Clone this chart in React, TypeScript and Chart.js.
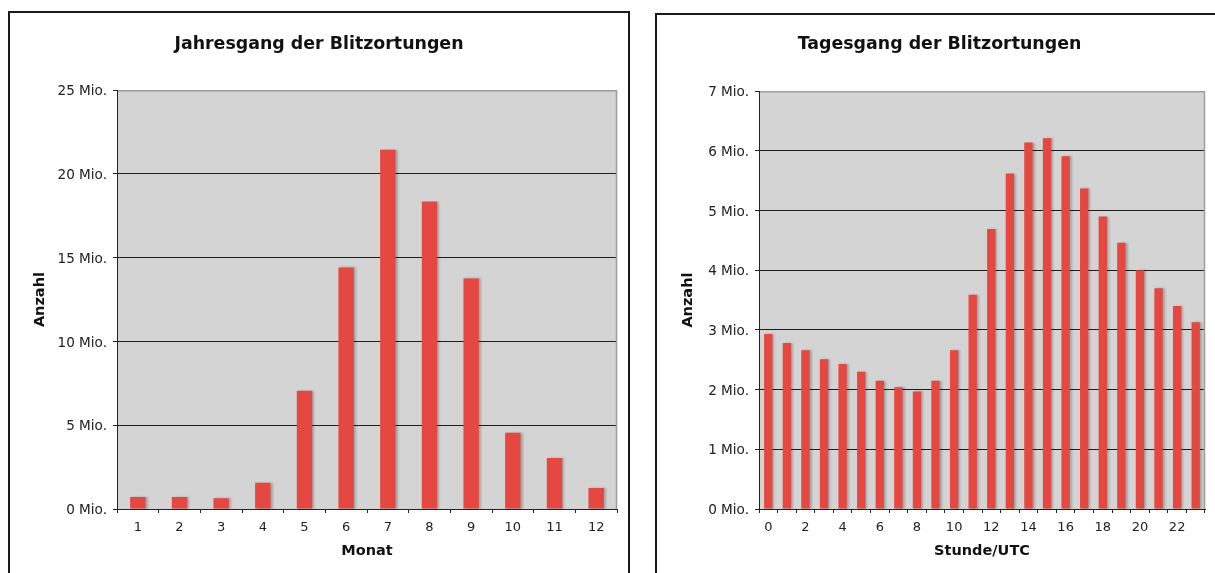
import React, { useEffect, useRef } from 'react';
import { Chart, registerables } from 'chart.js';

Chart.register(...registerables);

// ---- data ----
const monthLabels = ['1', '2', '3', '4', '5', '6', '7', '8', '9', '10', '11', '12'];
const monthValues = [0.72, 0.72, 0.64, 1.57, 7.06, 14.42, 21.45, 18.35, 13.76, 4.55, 3.04, 1.25];

const hourLabels = ['0', '1', '2', '3', '4', '5', '6', '7', '8', '9', '10', '11', '12', '13', '14', '15', '16', '17', '18', '19', '20', '21', '22', '23'];
const hourValues = [2.93, 2.78, 2.66, 2.51, 2.43, 2.3, 2.15, 2.04, 1.97, 2.15, 2.66, 3.59, 4.69, 5.62, 6.14, 6.21, 5.91, 5.37, 4.9, 4.46, 4.0, 3.7, 3.4, 3.13];

const FONT = '"DejaVu Sans", Verdana, sans-serif';

const plotPlugin = {
  id: 'plotDecor',
  beforeDraw(chart: any) {
    const { ctx, chartArea: a } = chart;
    ctx.save();
    ctx.fillStyle = '#d4d4d4';
    ctx.fillRect(a.left, a.top, a.right - a.left, a.bottom - a.top);
    ctx.restore();
  },
  beforeDatasetDraw(chart: any) {
    const ctx = chart.ctx;
    ctx.save();
    ctx.shadowColor = 'rgba(0,0,0,0.22)';
    ctx.shadowOffsetX = 2;
    ctx.shadowOffsetY = 0;
    ctx.shadowBlur = 2;
  },
  afterDatasetDraw(chart: any) {
    chart.ctx.restore();
  },
  afterDraw(chart: any) {
    const { ctx, chartArea: a } = chart;
    ctx.save();
    ctx.strokeStyle = '#9c9c9c';
    ctx.lineWidth = 1.5;
    ctx.beginPath();
    ctx.moveTo(a.left + 1, a.top + 0.5);
    ctx.lineTo(a.right - 0.5, a.top + 0.5);
    ctx.lineTo(a.right - 0.5, a.bottom);
    ctx.stroke();
    ctx.restore();
  },
};

type PanelProps = {
  title: string;
  labels: string[];
  values: number[];
  yMax: number;
  yStep: number;
  xTitle: string;
  barPct: number;
  skipOdd: boolean;
  left: number;
  top: number;
  width: number;
  height: number;
  yWidth: number;
  xHeight: number;
  titlePadTop: number;
  titlePadBottom: number;
  padLeft: number;
  padRight: number;
  yTitlePad: number;
};

function Panel(p: PanelProps) {
  const ref = useRef<HTMLCanvasElement | null>(null);
  useEffect(() => {
    if (!ref.current) return;
    const chart = new Chart(ref.current, {
      type: 'bar',
      data: {
        labels: p.labels,
        datasets: [
          {
            data: p.values,
            backgroundColor: '#e44841',
            borderWidth: 0,
            barPercentage: p.barPct,
            categoryPercentage: 1,
          },
        ],
      },
      plugins: [plotPlugin],
      options: {
        responsive: false,
        animation: false,
        devicePixelRatio: 1,
        layout: { padding: { left: p.padLeft, right: p.padRight, top: 0, bottom: 0 } },
        plugins: {
          legend: { display: false },
          tooltip: { enabled: false },
          title: {
            display: true,
            text: p.title,
            color: '#111',
            font: { family: FONT, size: 17.4, weight: 'bold' },
            padding: { top: p.titlePadTop, bottom: p.titlePadBottom },
          },
        },
        scales: {
          x: {
            grid: {
              offset: true,
              drawOnChartArea: false,
              drawTicks: true,
              tickLength: 4,
              color: '#222',
            },
            border: { color: '#222', width: 1 },
            ticks: {
              autoSkip: false,
              maxRotation: 0,
              padding: 7,
              color: '#222',
              font: { family: FONT, size: 13 },
              callback: function (_v: any, i: number) {
                if (p.skipOdd && i % 2 === 1) return '';
                return p.labels[i];
              },
            },
            title: {
              display: true,
              text: p.xTitle,
              color: '#111',
              font: { family: FONT, size: 14.5, weight: 'bold' },
              padding: { top: 4, bottom: 13.5 },
            },
            afterFit: (s: any) => {
              s.height = p.xHeight;
            },
          },
          y: {
            min: 0,
            max: p.yMax,
            ticks: {
              stepSize: p.yStep,
              padding: 6,
              labelOffset: 1.5,
              color: '#222',
              font: { family: FONT, size: 13.6 },
              callback: (v: any) => v + ' Mio.',
            },
            grid: {
              color: (c: any) => (c.tick && c.tick.value === p.yMax ? 'rgba(0,0,0,0)' : '#1e1e1e'),
              tickColor: '#222',
              tickLength: 4,
              lineWidth: 1,
            },
            border: { color: '#222', width: 1 },
            title: {
              display: true,
              text: 'Anzahl',
              color: '#111',
              font: { family: FONT, size: 14.5, weight: 'bold' },
              padding: { top: p.yTitlePad, bottom: 4 },
            },
            afterFit: (s: any) => {
              s.width = p.yWidth;
            },
          },
        },
      } as any,
    });
    return () => chart.destroy();
  }, []);
  return (
    <canvas
      ref={ref}
      width={p.width}
      height={p.height}
      style={{ position: 'absolute', left: p.left, top: p.top, width: p.width, height: p.height }}
    />
  );
}

export default function App() {
  return (
    <div
      style={{
        position: 'fixed',
        left: 0,
        top: 0,
        width: 1215,
        height: 573,
        overflow: 'hidden',
        background: '#fff',
      }}
    >
      <div
        style={{
          position: 'absolute',
          left: 8,
          top: 11,
          width: 622,
          height: 620,
          border: '2px solid #1a1a1a',
          boxSizing: 'border-box',
        }}
      />
      <div
        style={{
          position: 'absolute',
          left: 655,
          top: 13,
          width: 620,
          height: 620,
          border: '2px solid #1a1a1a',
          boxSizing: 'border-box',
        }}
      />
      <Panel
        title="Jahresgang der Blitzortungen"
        labels={monthLabels}
        values={monthValues}
        yMax={25}
        yStep={5}
        xTitle="Monat"
        barPct={0.37}
        skipOdd={false}
        left={10}
        top={13}
        width={618}
        height={560}
        yWidth={96}
        xHeight={64}
        titlePadTop={20.8}
        titlePadBottom={35.5}
        padLeft={11}
        padRight={11}
        yTitlePad={10.5}
      />
      <Panel
        title="Tagesgang der Blitzortungen"
        labels={hourLabels}
        values={hourValues}
        yMax={7}
        yStep={1}
        xTitle="Stunde/UTC"
        barPct={0.45}
        skipOdd={true}
        left={657}
        top={15}
        width={558}
        height={558}
        yWidth={85}
        xHeight={64}
        titlePadTop={18.8}
        titlePadBottom={36.5}
        padLeft={17}
        padRight={10}
        yTitlePad={5.5}
      />
    </div>
  );
}
